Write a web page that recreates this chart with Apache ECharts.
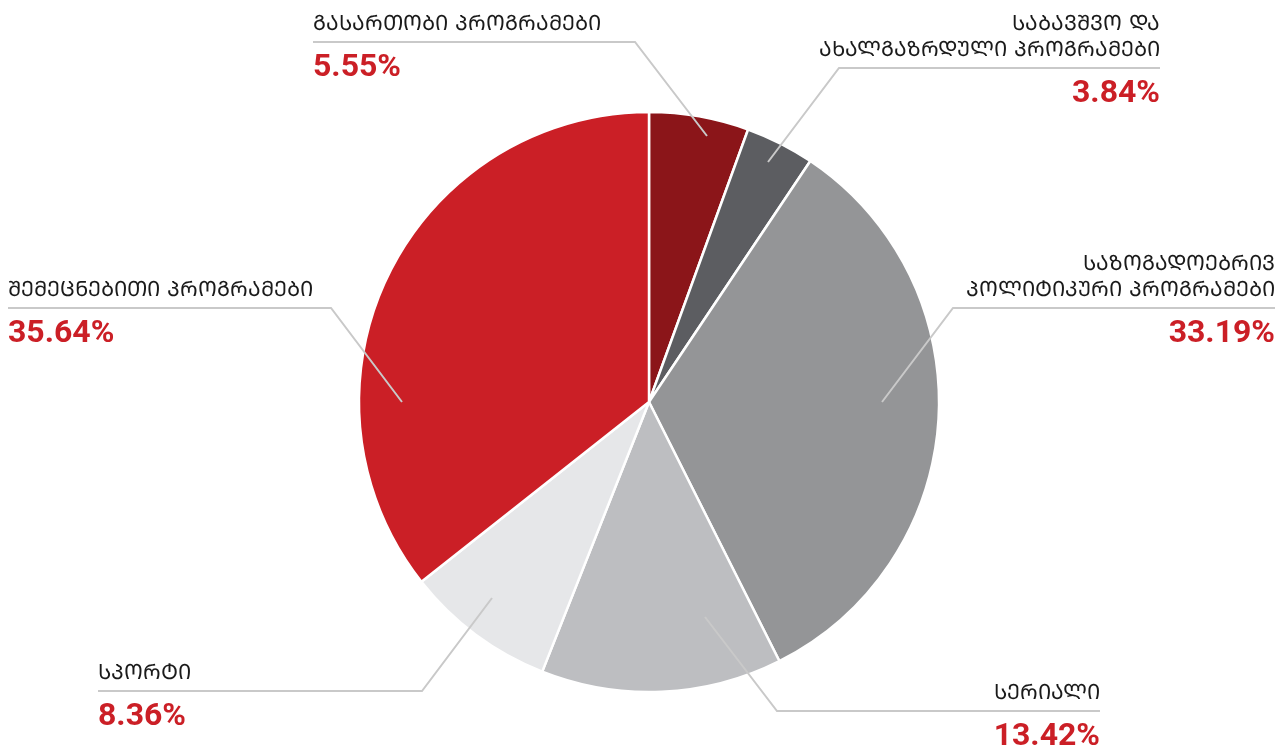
<!DOCTYPE html>
<html>
<head>
<meta charset="utf-8">
<script src="https://cdn.jsdelivr.net/npm/echarts@6/dist/echarts.min.js"></script>
<style>
html,body{margin:0;padding:0;background:#fff;}
#main{width:1287px;height:749px;}
</style>
</head>
<body>
<div id="main"></div>
<script>
// ---- data ----
const categories = [
  'ᲒᲐᲡᲐᲠᲗᲝᲑᲘ ᲞᲠᲝᲒᲠᲐᲛᲔᲑᲘ',
  'ᲡᲐᲑᲐᲕᲨᲕᲝ ᲓᲐ\nᲐᲮᲐᲚᲒᲐᲖᲠᲓᲣᲚᲘ ᲞᲠᲝᲒᲠᲐᲛᲔᲑᲘ',
  'ᲡᲐᲖᲝᲒᲐᲓᲝᲔᲑᲠᲘᲕ\nᲞᲝᲚᲘᲢᲘᲙᲣᲠᲘ ᲞᲠᲝᲒᲠᲐᲛᲔᲑᲘ',
  'ᲡᲔᲠᲘᲐᲚᲘ',
  'ᲡᲞᲝᲠᲢᲘ',
  'ᲨᲔᲛᲔᲪᲜᲔᲑᲘᲗᲘ ᲞᲠᲝᲒᲠᲐᲛᲔᲑᲘ'
];
const shares = [5.55, 3.84, 33.19, 13.42, 8.36, 35.64];

// ---- styling / layout (not data) ----
const colors = ['#8B1519', '#5C5D61', '#949597', '#BDBEC1', '#E6E7E9', '#CB1F26'];
// label placement: side of text block, text edge x, guide line y, elbow x, diagonal direction
const labelCfg = [
  {align:'left',  textX:313,  lineY:42,  elbowX:635, dx: 72, dy: 94},
  {align:'right', textX:1160, lineY:68,  elbowX:839, dx:-71, dy: 94},
  {align:'right', textX:1275, lineY:308, elbowX:953, dx:-71, dy: 94},
  {align:'right', textX:1100, lineY:711, elbowX:777, dx:-72, dy:-94},
  {align:'left',  textX:98,   lineY:691, elbowX:422, dx: 70, dy:-93},
  {align:'left',  textX:8,    lineY:308, elbowX:331, dx: 71, dy: 94}
];
const NAME_LH = 26;

const chart = echarts.init(document.getElementById('main'));
const pieData = categories.map((n, i) => ({name: n, value: shares[i], itemStyle: {color: colors[i]}}));
const labelData = categories.map((n, i) => ({name: n, value: shares[i]}));

chart.setOption({
  animation: false,
  series: [{
    type: 'pie',
    z: 2,
    center: [649, 402],
    radius: 290,
    startAngle: 90,
    clockwise: true,
    silent: true,
    data: pieData,
    itemStyle: {borderColor: '#ffffff', borderWidth: 2.5},
    label: {show: false},
    labelLine: {show: false}
  }, {
    type: 'pie',
    z: 5,
    center: [649, 402],
    radius: 290,
    startAngle: 90,
    clockwise: true,
    silent: true,
    avoidLabelOverlap: false,
    data: labelData,
    itemStyle: {color: 'rgba(0,0,0,0)', borderWidth: 0},
    label: {
      show: true,
      position: 'outside',
      formatter: function (p) {
        const lines = p.name.split('\n').map(s => '{n|' + s + '}').join('\n');
        return lines + '\n{p|' + p.value.toFixed(2) + '%}';
      },
      rich: {
        n: {fontFamily: 'DejaVu Sans', fontSize: 21, color: '#1a1a1a', lineHeight: NAME_LH},
        p: {fontFamily: 'Roboto', fontWeight: 'bold', fontSize: 32, color: '#CB1F26', lineHeight: 34, padding: [25, 0, 0, 0]}
      }
    },
    labelLine: {show: true, showAbove: true, lineStyle: {color: '#c9c9c9', width: 2}},
    labelLayout: function (params) {
      const c = labelCfg[params.dataIndex];
      const nLines = categories[params.dataIndex].split('\n').length;
      return {
        x: c.textX,
        y: c.lineY - nLines * NAME_LH - 4,
        align: c.align,
        verticalAlign: 'top',
        labelLinePoints: [
          [c.elbowX + c.dx, c.lineY + c.dy],
          [c.elbowX, c.lineY],
          [c.textX, c.lineY]
        ]
      };
    }
  }]
});
</script>
</body>
</html>
